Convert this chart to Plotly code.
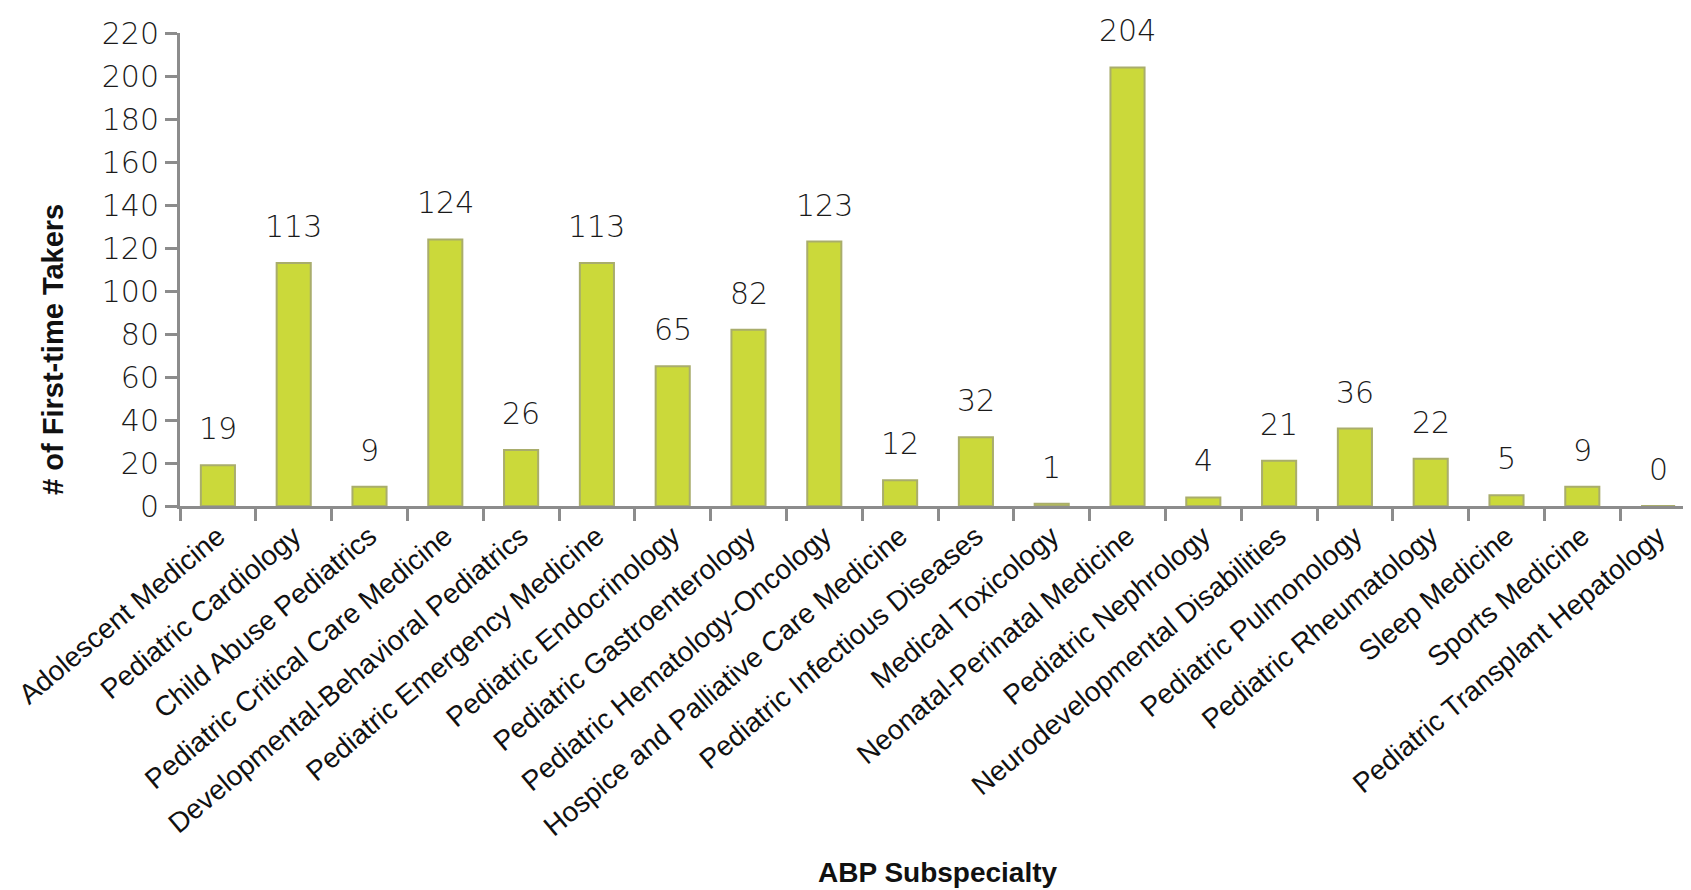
import plotly.graph_objects as go

# ABP subspecialties and counts of first-time takers
SUBSPECIALTIES = [
    "Adolescent Medicine", "Pediatric Cardiology", "Child Abuse Pediatrics",
    "Pediatric Critical Care Medicine", "Developmental-Behavioral Pediatrics",
    "Pediatric Emergency Medicine", "Pediatric Endocrinology",
    "Pediatric Gastroenterology", "Pediatric Hematology-Oncology",
    "Hospice and Palliative Care Medicine", "Pediatric Infectious Diseases",
    "Medical Toxicology", "Neonatal-Perinatal Medicine", "Pediatric Nephrology",
    "Neurodevelopmental Disabilities", "Pediatric Pulmonology",
    "Pediatric Rheumatology", "Sleep Medicine", "Sports Medicine",
    "Pediatric Transplant Hepatology",
]
TAKERS = [19, 113, 9, 124, 26, 113, 65, 82, 123, 12, 32, 1, 204, 4, 21, 36, 22, 5, 9, 0]

Y_TICKS = list(range(0, 221, 20))

AXIS_GREY = "#8c8c8c"
NUM_FONT = dict(family="DejaVu Sans", size=30, color="#1a1a1a", weight=300)

fig = go.Figure(go.Bar(
    x=SUBSPECIALTIES,
    y=TAKERS,
    width=0.45,
    marker=dict(color="#cbd93a", line=dict(color="#a9ad6c", width=2)),
))

# value labels sit a bit above each bar, like the original chart
for name, val in zip(SUBSPECIALTIES, TAKERS):
    fig.add_annotation(x=name, y=val, text=str(val), showarrow=False,
                       yanchor="bottom", yshift=17, font=NUM_FONT)

fig.update_layout(
    width=1691, height=890,
    paper_bgcolor="white", plot_bgcolor="white",
    margin=dict(l=172, r=3, t=25, b=392),
    showlegend=False,
)

fig.update_yaxes(
    range=[0, 220],
    tickvals=Y_TICKS,
    automargin=False,
    showgrid=False, zeroline=False,
    showline=True, linecolor=AXIS_GREY, linewidth=3,
    ticks="outside", ticklen=12, tickwidth=3, tickcolor=AXIS_GREY,
    tickfont=NUM_FONT,
)

fig.update_xaxes(
    automargin=False,
    showgrid=False,
    showline=True, linecolor=AXIS_GREY, linewidth=3,
    ticks="outside", ticklen=12, tickwidth=3, tickcolor=AXIS_GREY,
    tickson="boundaries",
    tickangle=-40,
    tickfont=dict(family="Liberation Sans", size=28, color="#111111"),
)

# axis titles placed as in the original
fig.add_annotation(xref="paper", yref="paper", x=0, y=0.33, xshift=-127,
                   xanchor="center", yanchor="middle",
                   text="<b># of First-time Takers</b>", textangle=-90, showarrow=False,
                   font=dict(family="Liberation Sans", size=29, color="#111111"))
fig.add_annotation(xref="paper", yref="paper", x=0.5, y=0, yshift=-366,
                   yanchor="middle",
                   text="<b>ABP Subspecialty</b>", showarrow=False,
                   font=dict(family="Liberation Sans", size=28, color="#111111"))

fig.write_html("out.html")
